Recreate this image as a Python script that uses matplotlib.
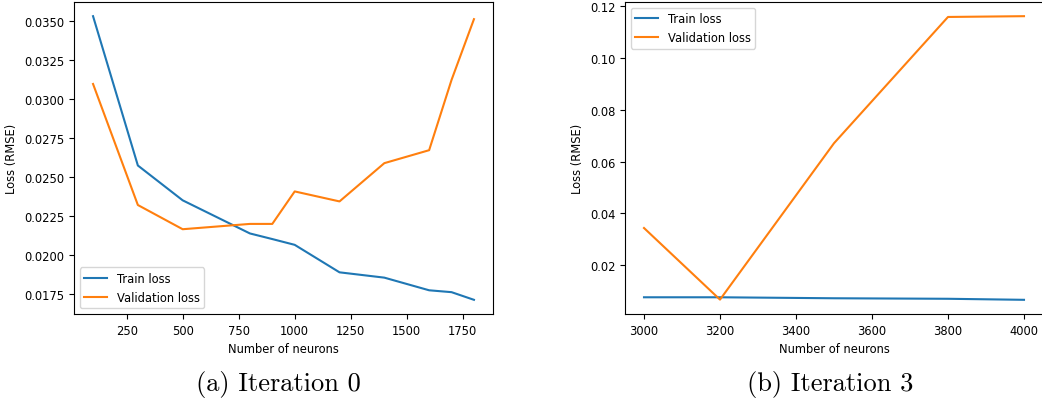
import matplotlib

matplotlib.use("Agg", force=True)
import matplotlib.pyplot as plt

# Iteration 0: loss vs. hidden layer size
neurons_it0 = [100, 300, 500, 800, 900, 1000, 1200, 1400, 1600, 1700, 1800]
train_it0 = [0.0353, 0.02574, 0.02351, 0.02139, 0.02103, 0.02066, 0.01890, 0.01856, 0.01775, 0.01763, 0.01714]
val_it0 = [0.03096, 0.02321, 0.02166, 0.02200, 0.02200, 0.02408, 0.02344, 0.02589, 0.02672, 0.03122, 0.03511]

# Iteration 3
neurons_it3 = [3000, 3200, 3500, 3800, 4000]
train_it3 = [0.00768, 0.00768, 0.0073, 0.0071, 0.0067]
val_it3 = [0.0344, 0.00678, 0.0671, 0.1158, 0.1161]

captions = ["(a) Iteration 0", "(b) Iteration 3"]

W, H = 1042, 410
fig = plt.figure(figsize=(W / 100, H / 100), dpi=100)
plt.rcParams["font.size"] = 8.3


def px_axes(left, top, right, bottom):
    return fig.add_axes([left / W, 1 - bottom / H, (right - left) / W, (bottom - top) / H])


ax_left = px_axes(74, 3, 493, 315)
ax_right = px_axes(625, 3, 1043, 315)

panels = [
    (ax_left, neurons_it0, train_it0, val_it0, "lower left"),
    (ax_right, neurons_it3, train_it3, val_it3, "upper left"),
]
for ax, x, train, val, loc in panels:
    ax.plot(x, train, color="#1f77b4", lw=1.5, label="Train loss")
    ax.plot(x, val, color="#ff7f0e", lw=1.5, label="Validation loss")
    ax.set_xlabel("Number of neurons", fontsize=8.3)
    ax.set_ylabel("Loss (RMSE)", fontsize=8.3)
    ax.tick_params(labelsize=8.3)
    ax.legend(loc=loc, fontsize=8.3)

ax_left.set_xticks([250, 500, 750, 1000, 1250, 1500, 1750])
ax_left.yaxis.set_major_formatter(matplotlib.ticker.FormatStrFormatter("%.4f"))
ax_right.yaxis.set_major_formatter(matplotlib.ticker.FormatStrFormatter("%.2f"))

fig.text(278 / W, 1 - 385 / H, captions[0], fontfamily="cmr10", fontsize=19,
         ha="center", va="center")
fig.text(830 / W, 1 - 385 / H, captions[1], fontfamily="cmr10", fontsize=19,
         ha="center", va="center")

fig.savefig("out.png", dpi=100)
